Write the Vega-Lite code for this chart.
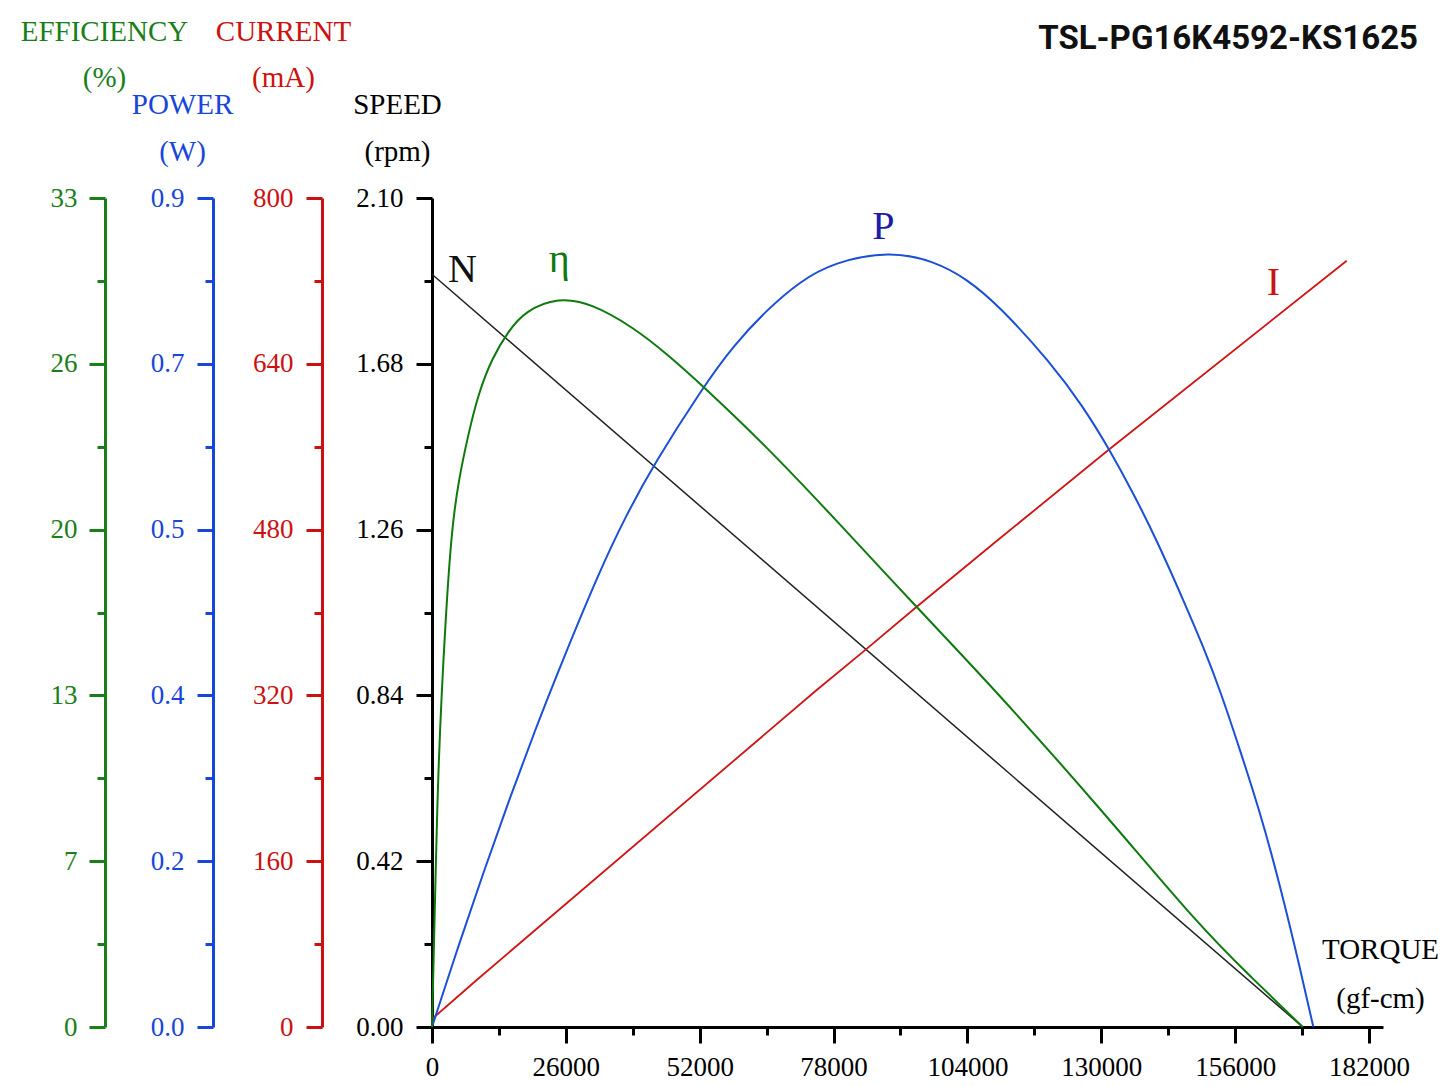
{
  "$schema": "https://vega.github.io/schema/vega-lite/v6.json",
  "background": "white",
  "autosize": {"type": "none"},
  "padding": {"left": 432, "top": 198, "right": 65, "bottom": 59},
  "width": 951,
  "height": 829,
  "title": {"text": "TSL-PG16K4592-KS1625", "anchor": "end", "frame": "group", "font": "Roboto", "fontWeight": "bold", "fontSize": 33, "color": "#111111", "dx": 35, "dy": 39, "offset": 0},
  "datasets": {
    "speed": [{"torque": 0, "speed": 1.9067}, {"torque": 169126, "speed": 0}],
    "current": [
      {"torque": 0, "current": 7.7}, {"torque": 8683, "current": 45.4}, {"torque": 74725, "current": 325.2},
      {"torque": 83777, "current": 362.2}, {"torque": 94149, "current": 405.6}, {"torque": 110329, "current": 471.6},
      {"torque": 131561, "current": 557.5}, {"torque": 177673, "current": 739.5}
    ],
    "power": [
      {"torque": 0, "power": 0}, {"torque": 5000, "power": 0.086}, {"torque": 10000, "power": 0.168},
      {"torque": 15000, "power": 0.247}, {"torque": 20000, "power": 0.322}, {"torque": 25000, "power": 0.393},
      {"torque": 32632, "power": 0.496}, {"torque": 37488, "power": 0.553}, {"torque": 42986, "power": 0.61},
      {"torque": 52700, "power": 0.695}, {"torque": 58527, "power": 0.7395}, {"torque": 65013, "power": 0.7785},
      {"torque": 71480, "power": 0.8095}, {"torque": 77950, "power": 0.8302}, {"torque": 88962, "power": 0.8425},
      {"torque": 97373, "power": 0.8318}, {"torque": 103860, "power": 0.8125}, {"torque": 110328, "power": 0.782},
      {"torque": 120040, "power": 0.722}, {"torque": 126508, "power": 0.6734}, {"torque": 131561, "power": 0.6271},
      {"torque": 136222, "power": 0.5794}, {"torque": 140768, "power": 0.5287}, {"torque": 145933, "power": 0.4636},
      {"torque": 149818, "power": 0.4128}, {"torque": 153061, "power": 0.3659}, {"torque": 156946, "power": 0.3007},
      {"torque": 160831, "power": 0.2334}, {"torque": 164716, "power": 0.1542}, {"torque": 168601, "power": 0.0641},
      {"torque": 171190, "power": 0}
    ],
    "eff": [
      {"torque": 0, "eff": 0}, {"torque": 583, "eff": 5.0}, {"torque": 1224, "eff": 10.7}, {"torque": 2661, "eff": 16.4},
      {"torque": 3827, "eff": 19.8}, {"torque": 5109, "eff": 21.7}, {"torque": 7051, "eff": 23.6}, {"torque": 8993, "eff": 25.2},
      {"torque": 11596, "eff": 26.6}, {"torque": 14821, "eff": 27.7}, {"torque": 18064, "eff": 28.5}, {"torque": 24532, "eff": 29.05},
      {"torque": 31021, "eff": 28.8}, {"torque": 39101, "eff": 27.85}, {"torque": 45589, "eff": 26.8}, {"torque": 52700, "eff": 25.5},
      {"torque": 65013, "eff": 23.1}, {"torque": 77950, "eff": 20.3}, {"torque": 94149, "eff": 16.7}, {"torque": 109030, "eff": 13.5},
      {"torque": 129752, "eff": 8.72}, {"torque": 149176, "eff": 3.99}, {"torque": 158888, "eff": 2.03}, {"torque": 169126, "eff": 0}
    ],
    "labels": [
      {"label": "N", "torque": 5924, "pos": 1.8875},
      {"label": "η", "torque": 24727, "pos": 1.9125},
      {"label": "P", "torque": 87663, "pos": 1.9954},
      {"label": "I", "torque": 163414, "pos": 1.8543}
    ]
  },
  "encoding": {
    "x": {
      "field": "torque", "type": "quantitative",
      "scale": {"domain": [0, 184720], "nice": false, "zero": true},
      "axis": {
        "values": [0, 13000, 26000, 39000, 52000, 65000, 78000, 91000, 104000, 117000, 130000, 143000, 156000, 169000, 182000],
        "labelExpr": "datum.value % 26000 === 0 ? format(datum.value, 'd') : ''",
        "tickSize": {"condition": {"test": "datum.value % 26000 !== 0", "value": 8}, "value": 16},
        "labelPadding": 11,
        "domainColor": "#000000", "tickColor": "#000000", "labelColor": "#000000", "titleColor": "#000000",
        "title": ["TORQUE", "(gf-cm)"], "titleAngle": 0, "titleAlign": "center", "titleBaseline": "alphabetic",
        "titleX": 948, "titleY": -69, "titleLineHeight": 49
      }
    }
  },
  "layer": [
    {
      "data": {"name": "speed"},
      "mark": {"type": "line", "color": "#222222", "strokeWidth": 1.5},
      "encoding": {
        "y": {
          "field": "speed", "type": "quantitative",
          "scale": {"domain": [0, 2.1], "nice": false},
          "axis": {
            "orient": "left", "offset": 0,
            "values": [0, 0.21, 0.42, 0.63, 0.84, 1.05, 1.26, 1.47, 1.68, 1.89, 2.1],
            "labelExpr": "abs(datum.value/0.42 - round(datum.value/0.42)) < 0.01 ? format(datum.value, '.2f') : ''",
            "tickSize": {"condition": {"test": "abs(datum.value/0.42 - round(datum.value/0.42)) > 0.01", "value": 8}, "value": 16},
            "labelPadding": 13,
            "domainColor": "#000000", "tickColor": "#000000", "labelColor": "#000000", "titleColor": "#000000",
            "title": ["SPEED", "(rpm)"], "titleAngle": 0, "titleAlign": "center", "titleBaseline": "alphabetic",
            "titleX": -35, "titleY": -85, "titleLineHeight": 47
          }
        }
      }
    },
    {
      "data": {"name": "current"},
      "mark": {"type": "line", "color": "#d01414", "strokeWidth": 1.8},
      "encoding": {
        "y": {
          "field": "current", "type": "quantitative",
          "scale": {"domain": [0, 800], "nice": false},
          "axis": {
            "orient": "left", "offset": 110,
            "values": [0, 80, 160, 240, 320, 400, 480, 560, 640, 720, 800],
            "labelExpr": "datum.value % 160 === 0 ? format(datum.value, 'd') : ''",
            "tickSize": {"condition": {"test": "datum.value % 160 !== 0", "value": 8}, "value": 16},
            "labelPadding": 13,
            "domainColor": "#cc1111", "tickColor": "#cc1111", "labelColor": "#cc1111", "titleColor": "#cc1111",
            "title": ["CURRENT", "(mA)"], "titleAngle": 0, "titleAlign": "center", "titleBaseline": "alphabetic",
            "titleX": -39, "titleY": -158, "titleLineHeight": 46
          }
        }
      }
    },
    {
      "data": {"name": "power"},
      "mark": {"type": "line", "color": "#1a4fd6", "strokeWidth": 2, "interpolate": "basis"},
      "encoding": {
        "y": {
          "field": "power", "type": "quantitative",
          "scale": {"domain": [0, 0.9], "nice": false},
          "axis": {
            "orient": "left", "offset": 219,
            "values": [0, 0.09, 0.18, 0.27, 0.36, 0.45, 0.54, 0.63, 0.72, 0.81, 0.9],
            "labelExpr": "abs(datum.value/0.18 - round(datum.value/0.18)) < 0.01 ? format(datum.value, '.1f') : ''",
            "tickSize": {"condition": {"test": "abs(datum.value/0.18 - round(datum.value/0.18)) > 0.01", "value": 8}, "value": 16},
            "labelPadding": 13,
            "domainColor": "#1846d8", "tickColor": "#1846d8", "labelColor": "#1846d8", "titleColor": "#1846d8",
            "title": ["POWER", "(W)"], "titleAngle": 0, "titleAlign": "center", "titleBaseline": "alphabetic",
            "titleX": -31, "titleY": -85, "titleLineHeight": 47
          }
        }
      }
    },
    {
      "data": {"name": "eff"},
      "mark": {"type": "line", "color": "#0e7a0e", "strokeWidth": 2, "interpolate": "basis"},
      "encoding": {
        "y": {
          "field": "eff", "type": "quantitative",
          "scale": {"domain": [0, 33], "nice": false},
          "axis": {
            "orient": "left", "offset": 327,
            "values": [0, 3.3, 6.6, 9.9, 13.2, 16.5, 19.8, 23.1, 26.4, 29.7, 33],
            "labelExpr": "abs(datum.value/6.6 - round(datum.value/6.6)) < 0.01 ? format(datum.value, '.0f') : ''",
            "tickSize": {"condition": {"test": "abs(datum.value/6.6 - round(datum.value/6.6)) > 0.01", "value": 8}, "value": 16},
            "labelPadding": 12,
            "domainColor": "#1a7f1a", "tickColor": "#1a7f1a", "labelColor": "#1a7f1a", "titleColor": "#1a7f1a",
            "title": ["EFFICIENCY", "(%)"], "titleAngle": 0, "titleAlign": "center", "titleBaseline": "alphabetic",
            "titleX": -1, "titleY": -158, "titleLineHeight": 46
          }
        }
      }
    },
    {
      "data": {"name": "labels"},
      "mark": {"type": "text", "font": "Liberation Serif", "fontSize": 40, "baseline": "alphabetic", "align": "center"},
      "encoding": {
        "y": {"field": "pos", "type": "quantitative", "scale": {"domain": [0, 2.1], "nice": false}, "axis": null},
        "text": {"field": "label"},
        "color": {
          "field": "label", "type": "nominal",
          "scale": {"domain": ["N", "η", "P", "I"], "range": ["#111111", "#0e7a0e", "#1c1ca8", "#c81414"]},
          "legend": null
        }
      }
    }
  ],
  "resolve": {"scale": {"y": "independent", "color": "independent"}},
  "config": {
    "view": {"stroke": null},
    "axis": {
      "grid": false,
      "labelFont": "Liberation Serif", "labelFontSize": 27,
      "titleFont": "Liberation Serif", "titleFontSize": 29, "titleFontWeight": "normal",
      "domainWidth": 3, "tickWidth": 3,
      "labelOverlap": false, "labelBound": false, "labelFlush": false
    }
  }
}
